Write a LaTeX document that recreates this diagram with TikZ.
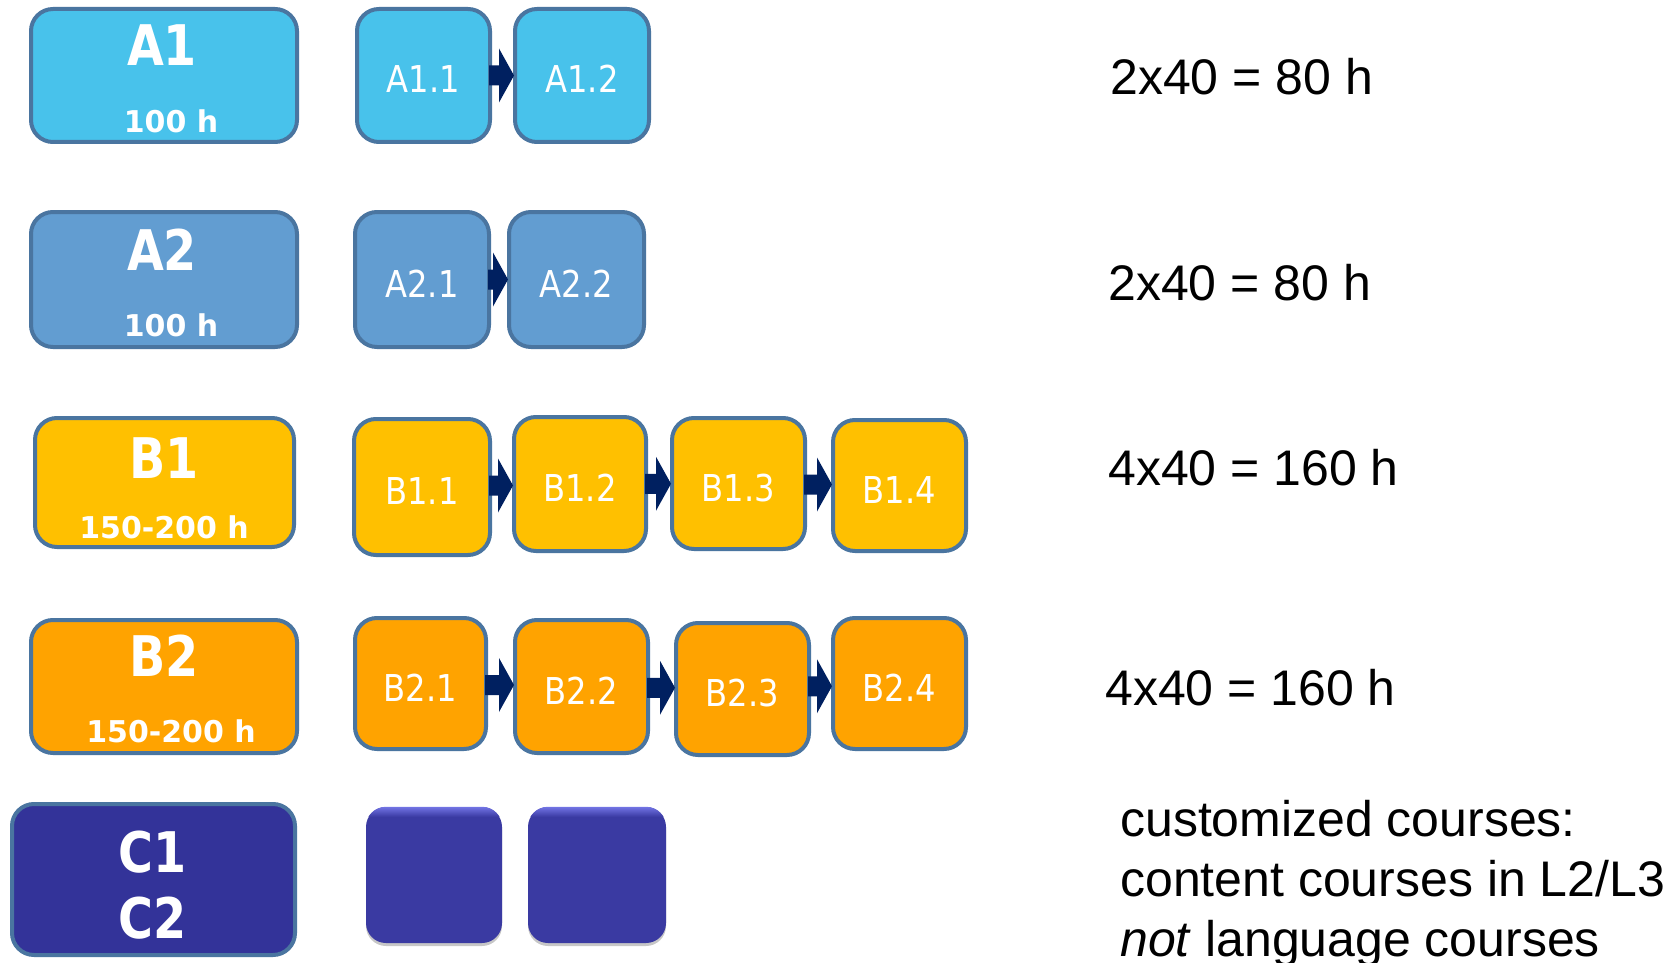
\documentclass[tikz,border=0pt]{standalone}
\usepackage{fontspec}
\usetikzlibrary{calc,shadows}
\setmainfont{Liberation Sans}
\newfontfamily\bigfont[FakeStretch=0.85]{DejaVu Sans}
\newfontfamily\subfont{DejaVu Sans}
\newfontfamily\smallfont[FakeStretch=0.87]{DejaVu Sans}
\definecolor{cAone}{HTML}{48C2EB}
\definecolor{cAtwo}{HTML}{629DD1}
\definecolor{cBone}{HTML}{FFC000}
\definecolor{cBtwo}{HTML}{FFA300}
\definecolor{cC}{HTML}{333399}
\definecolor{cCs}{HTML}{3A3AA2}
\definecolor{cHi}{HTML}{7274E4}
\definecolor{bord}{HTML}{4A75A0}
\definecolor{arrc}{HTML}{002060}
\newcommand\bx[7]{\node[#6, minimum width={(#4-#2-4)*1pt}, minimum height={(#5-#3-4)*1pt}] (#1) at ({(#2+#4)/2},{(#3+#5)/2}) {#7};}
\newcommand\blockarr[2]{\fill[arrc] let \p1=(#1.east), \p2=(#2.west), \p3=($(\p1)!0.5!(\p2)$) in
  (\x1-3pt,\y3+10pt) -- (\x2-14pt,\y3+10pt) -- (\x2-14pt,\y3+27pt) -- (\x2+1pt,\y3) --
  (\x2-14pt,\y3-27pt) -- (\x2-14pt,\y3-10pt) -- (\x1-3pt,\y3-10pt) -- cycle;}
\newcommand\cbx[1]{\begin{scope}
  \clip[rounded corners=20pt] (#1.south west) rectangle (#1.north east);
  \shade[top color=cHi, bottom color=cCs] (#1.north west) rectangle ($(#1.north east)+(0,10)$);
  \end{scope}}
\tikzset{
  box/.style={draw=bord, line width=4pt, rounded corners=22pt, inner sep=0pt, text=white},
  small/.style={box, font=\smallfont\fontsize{37}{40}\selectfont, text height=35pt, text depth=0pt},
  big/.style={text=white, font=\bigfont\bfseries\fontsize{56}{60}\selectfont, anchor=base, inner sep=0pt},
  sub/.style={text=white, font=\subfont\bfseries\fontsize{30}{34}\selectfont, anchor=base, inner sep=0pt},
  rtext/.style={font=\fontsize{50}{60}\selectfont, anchor=base west, inner sep=0pt},
  cbox/.style={fill=cCs, rounded corners=20pt, inner sep=0pt, drop shadow={shadow xshift=0pt, shadow yshift=-3pt, opacity=0.22, fill=black}}
}
\begin{document}
\begin{tikzpicture}[x=1pt,y=-1pt]
\useasboundingbox[fill=white] (0,0) rectangle (1676,963);
% A1 row
\bx{A1}{29}{7}{299}{144}{box, fill=cAone}{}
\node[big] (A1t) at (162,66) {A1};
\node[sub] (A1h) at (171,132) {100 h};
\bx{A11}{355}{7}{492}{144}{small, fill=cAone}{A1.1}
\bx{A12}{513}{7}{651}{144}{small, fill=cAone}{A1.2}
% A2 row
\bx{A2}{29}{210}{299}{349}{box, fill=cAtwo}{}
\node[big] (A2t) at (162,270) {A2};
\node[sub] (A2h) at (171,336) {100 h};
\bx{A21}{353}{210}{491}{349}{small, fill=cAtwo}{A2.1}
\bx{A22}{507}{210}{646}{349}{small, fill=cAtwo}{A2.2}
% B1 row
\bx{B1}{33}{416}{296}{549}{box, fill=cBone}{}
\node[big] (B1t) at (164,478) {B1};
\node[sub] (B1h) at (164,538) {150-200 h};
\bx{B11}{352}{417}{492}{557}{small, fill=cBone}{B1.1}
\bx{B12}{512}{415}{648}{553}{small, fill=cBone}{B1.2}
\bx{B13}{670}{416}{807}{551}{small, fill=cBone}{B1.3}
\bx{B14}{831}{418}{968}{553}{small, fill=cBone}{B1.4}
% B2 row
\bx{B2}{29}{618}{299}{755}{box, fill=cBtwo}{}
\node[big] (B2t) at (164,676) {B2};
\node[sub] (B2h) at (171,742) {150-200 h};
\bx{B21}{353}{616}{488}{751}{small, fill=cBtwo}{B2.1}
\bx{B22}{513}{618}{650}{755}{small, fill=cBtwo}{B2.2}
\bx{B23}{674}{621}{811}{757}{small, fill=cBtwo}{B2.3}
\bx{B24}{831}{616}{968}{751}{small, fill=cBtwo}{B2.4}
% C row
\bx{C}{10}{802}{297}{957}{box, fill=cC}{}
\node[big] (C1t) at (153,872) {C1};
\node[big] (C2t) at (153,938) {C2};
\node[cbox, minimum width=136pt, minimum height=136pt] (Cs1) at (434,875) {};
\node[cbox, minimum width=138pt, minimum height=136pt] (Cs2) at (597,875) {};
\cbx{Cs1}
\cbx{Cs2}
% arrows
\blockarr{A11}{A12}
\blockarr{A21}{A22}
\blockarr{B11}{B12}
\blockarr{B12}{B13}
\blockarr{B13}{B14}
\blockarr{B21}{B22}
\blockarr{B22}{B23}
\blockarr{B23}{B24}
% right texts
\node[rtext] (r1) at (1110,95) {2x40 = 80 h};
\node[rtext] (r2) at (1108,300) {2x40 = 80 h};
\node[rtext] (r3) at (1108,485) {4x40 = 160 h};
\node[rtext] (r4) at (1105,705) {4x40 = 160 h};
\node[rtext] (c1) at (1120,836) {customized courses:};
\node[rtext] (c2) at (1120,896) {content courses in L2/L3};
\node[rtext] (c3) at (1120,956) {\textit{not} language courses};
\end{tikzpicture}
\end{document}
